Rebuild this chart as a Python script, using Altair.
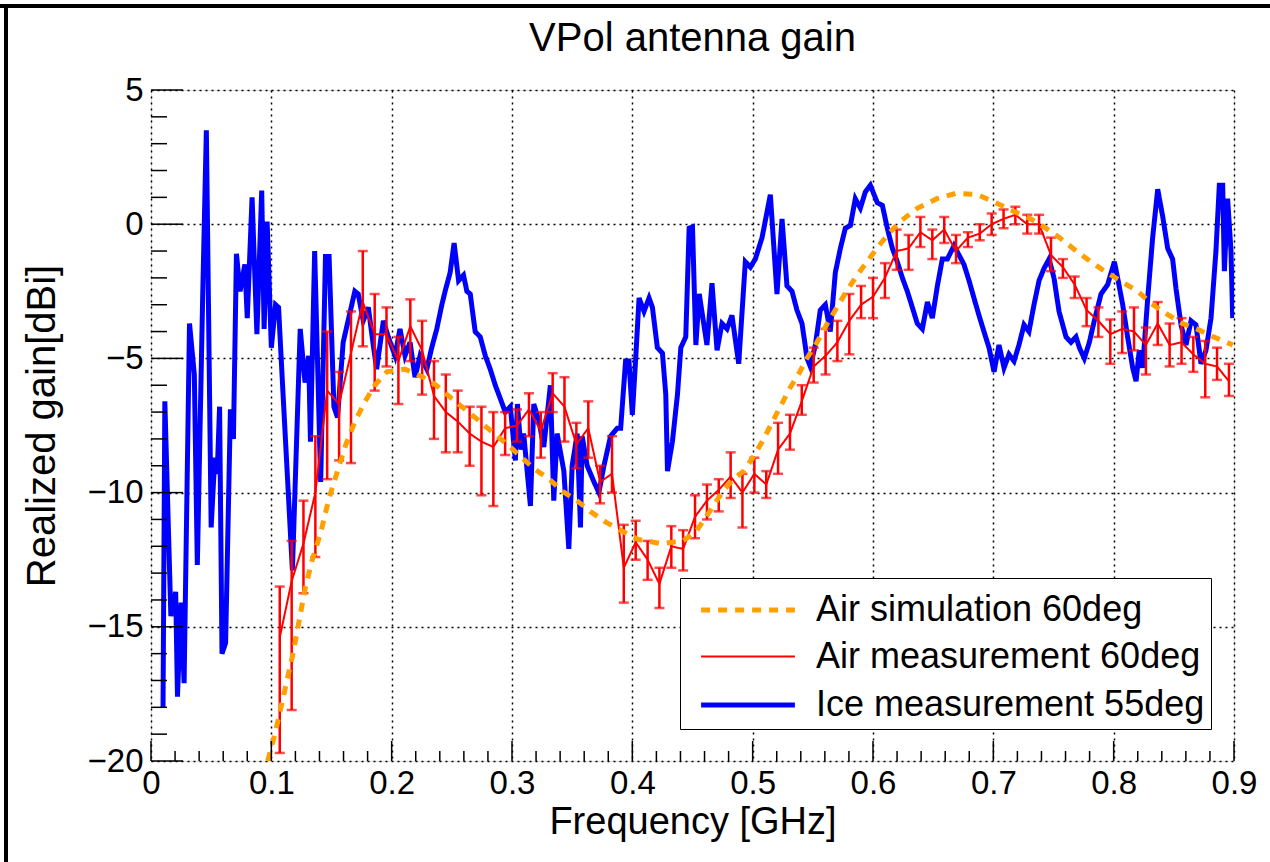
import altair as alt
import pandas as pd

# ---------------- data ----------------
ice_freq = [0.010, 0.0115, 0.0165, 0.0205, 0.022, 0.025, 0.0275, 0.032, 0.036, 0.0385, 0.043, 0.046,
            0.050, 0.053, 0.055, 0.057, 0.059, 0.062, 0.066, 0.0685, 0.071, 0.074, 0.078, 0.080,
            0.084, 0.088, 0.092, 0.094, 0.0965, 0.100, 0.1035, 0.106, 0.109, 0.1175, 0.124, 0.128,
            0.131, 0.1325, 0.136, 0.141, 0.145, 0.148, 0.152, 0.155,
            0.1597, 0.1694, 0.1722, 0.1764, 0.1806, 0.1847, 0.1875, 0.1931, 0.1972, 0.2028, 0.2069,
            0.2111, 0.2153, 0.2194, 0.2236, 0.2292, 0.2333, 0.2375, 0.2417, 0.2444, 0.2486, 0.2519,
            0.2556, 0.2597, 0.2625, 0.2653, 0.2694, 0.2736, 0.2778, 0.2819, 0.2861, 0.2903, 0.2944,
            0.2986, 0.3028,
            0.3045, 0.3075, 0.3097, 0.3153, 0.3181, 0.3222, 0.3264, 0.3319, 0.3347, 0.3375, 0.3431,
            0.3472, 0.3500, 0.3542, 0.3569, 0.3583, 0.3625, 0.3681, 0.3722, 0.3764, 0.3819, 0.3875,
            0.3903, 0.3944, 0.3972, 0.4000, 0.4028, 0.4056, 0.4097, 0.4139, 0.4167, 0.4208, 0.4250,
            0.4278, 0.4292, 0.4333, 0.4375, 0.4403, 0.4444, 0.4472, 0.4500, 0.4528, 0.4556,
            0.4620, 0.4662, 0.4704, 0.4745, 0.4787, 0.4828, 0.4884, 0.4939, 0.4981, 0.5022, 0.5078,
            0.5147, 0.5202, 0.5244, 0.5285, 0.5327, 0.5368, 0.5410, 0.5452, 0.5479, 0.5521, 0.5562,
            0.5604, 0.5645, 0.5687, 0.5729, 0.5770, 0.5812, 0.5853, 0.5895, 0.5936, 0.5978,
            0.6036, 0.6078, 0.6119, 0.6161, 0.6202, 0.6244, 0.6285, 0.6327, 0.6368, 0.6410, 0.6452,
            0.6493, 0.6535, 0.6576, 0.6618, 0.6673, 0.6715, 0.6756, 0.6798, 0.6839, 0.6881, 0.6922,
            0.6964, 0.7006, 0.7047, 0.7089, 0.7130, 0.7172, 0.7213, 0.7255, 0.7296, 0.7338, 0.7380,
            0.7421, 0.7463, 0.7504, 0.7546,
            0.7604, 0.7645, 0.7687, 0.7715, 0.7756, 0.7798, 0.7839, 0.7895, 0.7950, 0.8006, 0.8033,
            0.8075, 0.8116, 0.8158, 0.8186, 0.8213, 0.8241, 0.8283, 0.8324, 0.8366, 0.8407, 0.8449,
            0.8490, 0.8518, 0.8560, 0.8601, 0.8643, 0.8684, 0.8726, 0.8767, 0.8809, 0.8850, 0.8878,
            0.8906, 0.8920, 0.8947, 0.8975, 0.8989]
ice_gain = [-18.0, -6.6, -14.6, -13.7, -17.6, -14.1, -17.1, -3.7, -5.6, -12.7, -2.6, 3.5,
            -11.3, -8.7, -9.3, -6.8, -16.0, -15.6, -6.9, -8.0, -1.1, -2.5, -1.5, -3.5,
            1.0, -4.1, 1.25, -3.9, 0.1, -4.6, -3.0, -3.1, -5.7, -12.9, -3.9, -5.9,
            -4.9, -8.1, -1.0, -9.6, -1.2, -1.2, -6.8, -7.2,
            -4.4, -2.5, -2.6, -3.6, -3.1, -4.5, -5.4, -3.6, -4.2, -4.9, -3.9,
            -4.9, -4.4, -5.7, -4.9, -5.4, -4.6, -3.9, -3.0, -2.5, -1.8, -0.7,
            -2.1, -1.9, -2.5, -2.6, -4.0, -4.2, -4.9, -5.4, -6.0, -6.5, -7.0,
            -6.8, -8.8,
            -6.7, -8.4, -7.8, -10.5, -6.7, -7.3, -8.3, -6.0, -10.3, -7.8, -9.2,
            -12.1, -9.0, -7.8, -11.3, -7.9, -9.0, -9.6, -10.0, -9.0, -7.9, -7.6,
            -7.6, -5.1, -5.1, -7.1, -5.0, -2.75, -3.25, -2.75, -3.1, -4.6, -4.8,
            -6.35, -9.2, -8.1, -6.35, -4.6, -4.2, -0.15, -0.1, -4.5, -2.6,
            -4.5, -2.2, -4.7, -3.7, -3.9, -3.4, -5.2, -1.4, -1.6, -1.3, -0.5,
            1.1, -2.6, 0.2, -2.3, -2.5, -3.2, -3.7, -5.0, -5.3, -4.5, -3.2,
            -3.0, -4.0, -1.8, -0.9, -0.15, -0.05, 0.95, 0.6, 1.2, 1.45,
            0.8, 0.7, -0.15, -0.9, -1.4, -2.0, -2.5, -3.1, -3.7, -3.9, -2.9,
            -3.5, -2.3, -1.3, -1.3, -0.8, -1.15, -1.5, -2.1, -2.75, -3.4, -4.0,
            -4.6, -5.5, -4.5, -5.35, -4.85, -5.1, -4.5, -3.75, -4.0, -3.0, -2.1,
            -1.65, -1.3, -2.0, -3.25,
            -4.2, -4.4, -4.2, -4.6, -5.0, -4.4, -3.6, -2.6, -2.25, -1.4, -2.0,
            -3.0, -4.2, -5.35, -5.85, -4.7, -5.35, -2.75, -0.5, 1.3, 0.3, -0.9,
            -1.3, -2.4, -3.75, -4.5, -3.6, -3.75, -5.2, -4.7, -3.5, -1.0, 1.45,
            1.45, -1.75, 0.95, -1.0, -3.5]

sim_freq = [0.097, 0.103, 0.108, 0.113, 0.118, 0.123, 0.128, 0.134, 0.141, 0.148, 0.155, 0.162,
            0.170, 0.178, 0.186, 0.196, 0.211, 0.226, 0.237, 0.250, 0.261, 0.272, 0.285, 0.296,
            0.307, 0.318, 0.331, 0.342, 0.354, 0.365, 0.378, 0.390, 0.405, 0.424, 0.442, 0.453,
            0.465, 0.476, 0.484, 0.4925, 0.500, 0.508, 0.516, 0.523, 0.531, 0.538, 0.545, 0.5535,
            0.562, 0.570, 0.578, 0.586, 0.595, 0.604, 0.614, 0.624, 0.637, 0.653, 0.669, 0.687,
            0.702, 0.716, 0.731, 0.742, 0.755, 0.769, 0.781, 0.7925, 0.805, 0.820, 0.831, 0.846,
            0.857, 0.869, 0.883, 0.899]
sim_gain = [-20.0, -19.0, -18.0, -17.0, -16.0, -14.8, -13.6, -12.5, -11.5, -10.2, -9.2, -8.2,
            -7.3, -6.6, -6.0, -5.5, -5.4, -5.7, -6.0, -6.5, -6.9, -7.3, -7.8, -8.2,
            -8.65, -9.1, -9.5, -9.95, -10.3, -10.7, -11.1, -11.4, -11.75, -11.9, -11.8, -11.45,
            -10.65, -9.9, -9.5, -9.2, -8.7, -8.1, -7.4, -6.8, -6.1, -5.6, -5.0, -4.4,
            -3.7, -3.1, -2.5, -1.95, -1.4, -0.85, -0.3, 0.15, 0.6, 0.95, 1.15, 1.1,
            0.8, 0.5, 0.2, -0.1, -0.5, -1.0, -1.4, -1.75, -2.1, -2.5, -2.95, -3.4,
            -3.7, -3.9, -4.2, -4.5]

meas_freq = [0.1070, 0.1169, 0.1267, 0.1366, 0.1464, 0.1563, 0.1662, 0.1760, 0.1859, 0.1957,
             0.2056, 0.2155, 0.2253, 0.2352, 0.2450, 0.2549, 0.2648, 0.2746, 0.2845, 0.2943,
             0.3042, 0.3141, 0.3239, 0.3338, 0.3436, 0.3535, 0.3634, 0.3732, 0.3831, 0.3929,
             0.4028, 0.4127, 0.4225, 0.4324, 0.4422, 0.4521, 0.4620, 0.4718, 0.4817, 0.4915,
             0.5014, 0.5113, 0.5211, 0.5310, 0.5408, 0.5507, 0.5606, 0.5704, 0.5803, 0.5901,
             0.6000, 0.6099, 0.6197, 0.6296, 0.6394, 0.6493, 0.6592, 0.6690, 0.6789, 0.6887,
             0.6986, 0.7085, 0.7183, 0.7282, 0.7380, 0.7479, 0.7578, 0.7676, 0.7775, 0.7873,
             0.7972, 0.8071, 0.8169, 0.8268, 0.8366, 0.8465, 0.8564, 0.8662, 0.8761, 0.8859,
             0.8958]
meas_gain = [-15.4, -13.3, -11.9, -10.0, -6.2, -6.7, -4.8, -2.9, -4.1, -4.1,
             -5.1, -3.8, -4.7, -6.4, -7.0, -7.35, -7.8, -8.1, -8.3, -7.6,
             -7.5, -6.9, -7.7, -6.3, -6.8, -8.2, -7.6, -9.6, -9.3, -12.8,
             -11.85, -12.5, -13.4, -12.0, -12.1, -10.9, -10.3, -9.9, -9.4, -10.0,
             -9.3, -9.7, -8.4, -7.8, -6.6, -5.3, -4.9, -4.4, -3.6, -3.0,
             -2.7, -2.0, -1.0, -0.9, -0.3, -0.6, -0.2, -1.0, -0.5, -0.35,
             0.0, 0.2, 0.35, 0.0, 0.0, -1.15, -1.6, -2.25, -3.2, -3.6,
             -4.1, -3.9, -4.0, -4.5, -3.7, -4.5, -4.4, -4.85, -5.2, -5.3,
             -5.85]
meas_hi = [-13.5, -11.8, -10.3, -7.9, -4.0, -5.5, -3.25, -1.0, -2.6, -3.1,
           -4.2, -2.8, -3.6, -5.1, -5.6, -6.2, -6.8, -6.8, -7.0, -7.0,
           -6.9, -6.3, -7.0, -5.55, -5.7, -7.4, -6.6, -9.0, -7.9, -11.2,
           -11.05, -11.8, -12.8, -11.25, -11.4, -10.1, -9.7, -9.5, -8.5, -9.3,
           -8.7, -9.2, -7.4, -7.1, -6.0, -4.6, -3.9, -3.6, -2.6, -2.3,
           -2.0, -1.45, -0.2, -0.4, 0.27, -0.2, 0.27, -0.4, -0.3, 0.0,
           0.4, 0.55, 0.65, 0.35, 0.35, -0.5, -1.3, -1.95, -2.75, -3.1,
           -3.55, -3.25, -3.1, -3.85, -2.9, -3.7, -3.5, -4.2, -4.35, -4.6,
           -5.2]
meas_lo = [-19.7, -18.1, -13.75, -12.4, -9.5, -8.8, -8.9, -4.55, -6.2, -5.3,
           -6.7, -5.1, -6.35, -8.0, -8.5, -8.5, -9.0, -10.1, -10.5, -8.6,
           -8.1, -7.9, -8.7, -7.0, -8.1, -9.1, -8.7, -10.4, -10.0, -14.1,
           -12.5, -13.25, -14.3, -12.8, -12.9, -11.7, -11.0, -10.7, -10.2, -11.3,
           -10.0, -10.2, -9.3, -8.4, -7.1, -5.9, -5.6, -5.1, -4.85, -3.5,
           -3.5, -2.75, -1.7, -1.7, -0.85, -1.3, -0.7, -1.45, -0.85, -0.6,
           -0.4, -0.15, 0.0, -0.35, -0.35, -1.75, -2.0, -2.75, -3.8, -4.2,
           -5.2, -4.8, -4.7, -5.6, -4.5, -5.3, -5.2, -5.5, -6.45, -5.8,
           -6.4]

series_names = ["Air simulation 60deg", "Air measurement 60deg", "Ice measurement 55deg"]
series_colors = ["#ff9f00", "#ff0000", "#0000ff"]
series_dash = [[9, 8], [1, 0], [1, 0]]
series_width = [5, 2, 5]

x_major = [0, 0.1, 0.2, 0.3, 0.4, 0.5, 0.6, 0.7, 0.8, 0.9]
x_minor = [0.02, 0.04, 0.06, 0.08, 0.12, 0.14, 0.16, 0.18, 0.22, 0.24, 0.26, 0.28,
           0.32, 0.34, 0.36, 0.38, 0.42, 0.44, 0.46, 0.48, 0.52, 0.54, 0.56, 0.58,
           0.62, 0.64, 0.66, 0.68, 0.72, 0.74, 0.76, 0.78, 0.82, 0.84, 0.86, 0.88]
y_major = [5, 0, -5, -10, -15, -20]
y_minor = [4, 3, 2, 1, -1, -2, -3, -4, -6, -7, -8, -9, -11, -12, -13, -14,
           -16, -17, -18, -19]

# ---------------- layout ----------------
W, H = 1083, 671
FONT = "Liberation Sans"

ice_df = pd.DataFrame({"f": ice_freq, "g": ice_gain, "series": series_names[2]})
sim_df = pd.DataFrame({"f": sim_freq, "g": sim_gain, "series": series_names[0]})
meas_df = pd.DataFrame({"f": meas_freq, "g": meas_gain, "hi": meas_hi, "lo": meas_lo,
                        "series": series_names[1]})

xs = alt.Scale(domain=[0, 0.9], nice=False, zero=False)
ys = alt.Scale(domain=[-20, 5], nice=False, zero=False)

legend = alt.Legend(
    title=None, orient="none", legendX=529, legendY=488,
    symbolType="M-2,0H2", symbolSize=2200, labelFontSize=36, labelFont=FONT,
    labelColor="black", labelLimit=900, fillColor="white", strokeColor="black",
    padding=6, rowPadding=4, symbolOffset=36, labelOffset=42,
)

color_enc = alt.Color("series:N", scale=alt.Scale(domain=series_names, range=series_colors),
                      legend=legend)
dash_enc = alt.StrokeDash("series:N", scale=alt.Scale(domain=series_names, range=series_dash),
                          legend=legend)
width_enc = alt.StrokeWidth("series:N", scale=alt.Scale(type="ordinal", domain=series_names,
                                                        range=series_width),
                            legend=legend)

x_axis = alt.Axis(values=x_major, format="~g", title="Frequency [GHz]", grid=True,
                  gridDash=[2, 4], gridColor="black", gridWidth=1.5, domain=False, ticks=False,
                  labelFontSize=33, labelFont=FONT, labelColor="black", labelPadding=6,
                  labelFlush=False, labelOverlap=False,
                  titleFontSize=38, titleFont=FONT, titleFontWeight="normal", titleColor="black",
                  titlePadding=3)
y_axis = alt.Axis(values=y_major, format="~g", title="Realized gain[dBi]", grid=True,
                  gridDash=[2, 4], gridColor="black", gridWidth=1.5, domain=False, ticks=False,
                  labelFontSize=33, labelFont=FONT, labelColor="black", labelPadding=8,
                  labelFlush=False, labelOverlap=False,
                  titleFontSize=40, titleFont=FONT, titleFontWeight="normal", titleColor="black",
                  titlePadding=25)

base_x = alt.X("f:Q", scale=xs, axis=x_axis)
base_y = alt.Y("g:Q", scale=ys, axis=y_axis)

ice = alt.Chart(ice_df).mark_line(clip=True).encode(
    x=base_x, y=base_y, color=color_enc, strokeDash=dash_enc, strokeWidth=width_enc)

meas_line = alt.Chart(meas_df).mark_line(clip=True).encode(
    x=alt.X("f:Q", scale=xs), y=alt.Y("g:Q", scale=ys),
    color=color_enc, strokeDash=dash_enc, strokeWidth=width_enc)

err = alt.Chart(meas_df).mark_rule(color="#ff0000", strokeWidth=2.5, clip=True).encode(
    x=alt.X("f:Q", scale=xs), y=alt.Y("lo:Q", scale=ys), y2="hi:Q")
cap_hi = alt.Chart(meas_df).mark_tick(color="#ff0000", orient="horizontal", size=10,
                                      thickness=2.5, clip=True).encode(
    x=alt.X("f:Q", scale=xs), y=alt.Y("hi:Q", scale=ys))
cap_lo = alt.Chart(meas_df).mark_tick(color="#ff0000", orient="horizontal", size=10,
                                      thickness=2.5, clip=True).encode(
    x=alt.X("f:Q", scale=xs), y=alt.Y("lo:Q", scale=ys))

sim = alt.Chart(sim_df).mark_line(clip=True).encode(
    x=alt.X("f:Q", scale=xs), y=alt.Y("g:Q", scale=ys),
    color=color_enc, strokeDash=dash_enc, strokeWidth=width_enc)

# inward ticks (ROOT style)
xmaj_df = pd.DataFrame({"t": x_major})
xmin_df = pd.DataFrame({"t": x_minor})
ymaj_df = pd.DataFrame({"t": y_major})
ymin_df = pd.DataFrame({"t": y_minor})

tick_x_major = alt.Chart(xmaj_df).mark_rule(color="black", strokeWidth=1.5).encode(
    x=alt.X("t:Q", scale=xs), y=alt.value(H), y2=alt.value(H - 20))
tick_x_minor = alt.Chart(xmin_df).mark_rule(color="black", strokeWidth=1.5).encode(
    x=alt.X("t:Q", scale=xs), y=alt.value(H), y2=alt.value(H - 10))
tick_y_major = alt.Chart(ymaj_df).mark_rule(color="black", strokeWidth=1.5).encode(
    y=alt.Y("t:Q", scale=ys), x=alt.value(0), x2=alt.value(32))
tick_y_minor = alt.Chart(ymin_df).mark_rule(color="black", strokeWidth=1.5).encode(
    y=alt.Y("t:Q", scale=ys), x=alt.value(0), x2=alt.value(16))

# canvas frame (top and left edges of the ROOT canvas)
frame_top = alt.Chart(xmaj_df).mark_rule(color="black", strokeWidth=4).encode(
    x=alt.value(-151), x2=alt.value(1119), y=alt.value(-84))
frame_left = alt.Chart(xmaj_df).mark_rule(color="black", strokeWidth=4).encode(
    x=alt.value(-145), y=alt.value(-86), y2=alt.value(772))

chart = alt.layer(
    ice, meas_line, err, cap_hi, cap_lo, sim,
    tick_x_major, tick_x_minor, tick_y_major, tick_y_minor, frame_top, frame_left,
).properties(
    width=W, height=H,
    title=alt.TitleParams("VPol antenna gain", fontSize=40, font=FONT, fontWeight="normal",
                          color="black", anchor="middle", offset=-89, baseline="alphabetic"),
    autosize=alt.AutoSizeParams(type="none"),
    padding={"left": 151, "top": 90, "right": 36, "bottom": 101},
).configure_view(
    stroke="black", strokeWidth=2.5
).configure(background="white")

chart.save("out.html", embed_options={"renderer": "svg", "actions": False})
